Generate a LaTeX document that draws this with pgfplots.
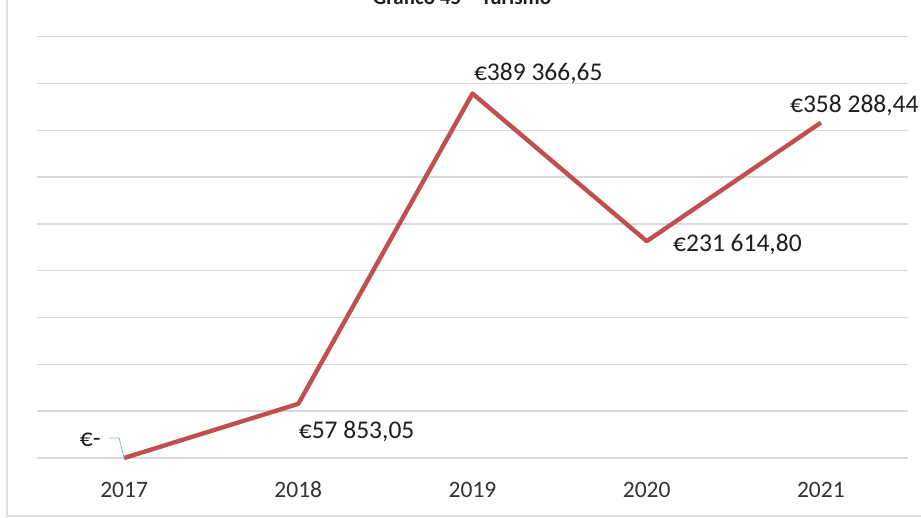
\documentclass[border=0pt]{standalone}
\usepackage{pgfplots}
\pgfplotsset{compat=1.18}
\usepackage{fontspec}
\setmainfont{Carlito}

\definecolor{linered}{RGB}{192,80,77}
\definecolor{gridgrey}{RGB}{217,217,217}
\definecolor{labeltext}{RGB}{30,30,30}
\definecolor{ticktext}{RGB}{50,50,50}

\newcommand{\dl}[1]{\fontsize{25.5}{30}\selectfont\color{labeltext}#1}

\begin{document}
\begin{tikzpicture}
\begin{axis}[
    at={(0,0)}, anchor=south west,
    scale only axis,
    width=871pt, height=421.2pt,
    xmin=-0.5, xmax=4.5,
    ymin=0, ymax=450000,
    xtick={0,1,2,3,4},
    xticklabels={2017,2018,2019,2020,2021},
    ytick={0,50000,...,450000},
    yticklabels={},
    scaled y ticks=false,
    ymajorgrids,
    grid style={gridgrey, line width=1.4pt},
    axis line style={draw=none},
    tick style={draw=none},
    xticklabel style={font=\fontsize{23.5}{28}\selectfont, text=ticktext, anchor=base, yshift=-40pt},
    clip=false,
]
\addplot[linered, line width=4.4pt, line join=round] coordinates {
    (0, 0)
    (1, 57853.05)
    (2, 389366.65)
    (3, 231614.80)
    (4, 358288.44)
};
\draw[teal!50, line width=0.8pt] (axis cs:0,0) -- ++(-5pt,20pt) -- ++(-10pt,0pt);
\node[anchor=east] at ([shift={(-20pt,18pt)}]axis cs:0,0) {\dl{€-}};
\node[anchor=west] at ([shift={(-3pt,-28pt)}]axis cs:1,57853.05) {\dl{€57 853,05}};
\node[anchor=west] at ([shift={(-2pt,20pt)}]axis cs:2,389366.65) {\dl{€389 366,65}};
\node[anchor=west] at ([shift={(23pt,-3pt)}]axis cs:3,231614.80) {\dl{€231 614,80}};
\node[anchor=west, inner xsep=1pt] at ([shift={(-32pt,17pt)}]axis cs:4,358288.44) {\dl{€358 288,44}};
\node[anchor=base, font=\bfseries\fontsize{21}{25}\selectfont, text=labeltext] at ([shift={(425pt,453pt)}]rel axis cs:0,0) {Gráfico 45 – Turismo};
\end{axis}
\draw[black!12, line width=1.5pt] (-30pt,470pt) -- (-30pt,-58pt) -- (900pt,-58pt);
\pgfresetboundingbox
\path (-37pt,-60pt) rectangle (884pt,458pt);
\end{tikzpicture}
\end{document}
